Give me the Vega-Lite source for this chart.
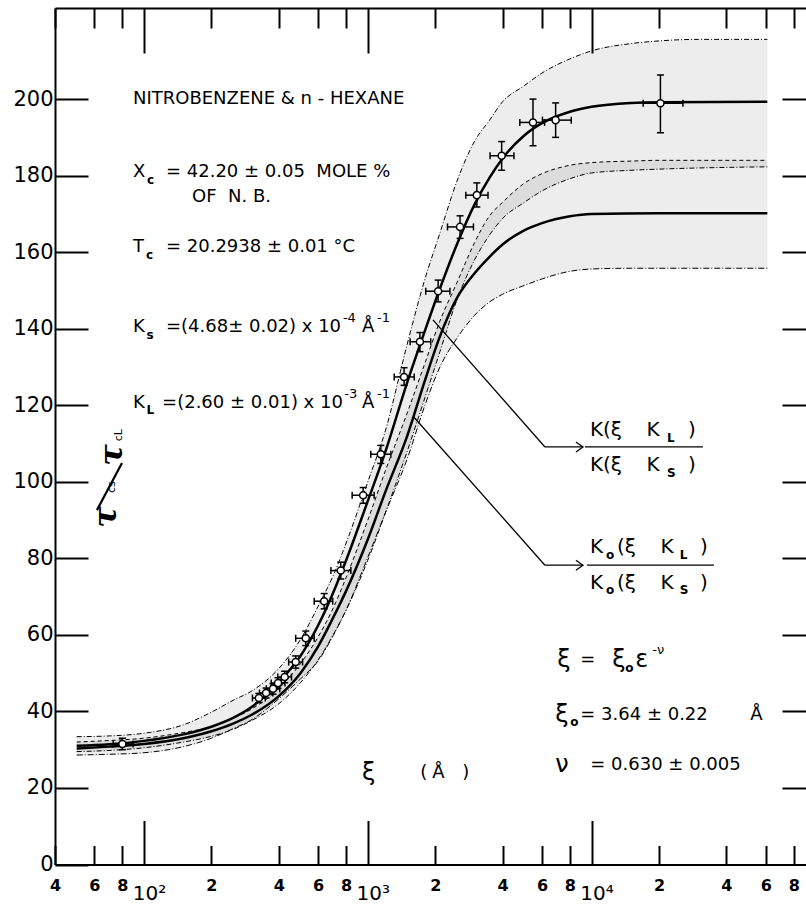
{
"$schema":"https://vega.github.io/schema/vega-lite/v6.json",
"width":751,"height":856.5,
"autosize":{"type":"none"},
"padding":{"left":55,"top":8,"right":0,"bottom":42.5},
"background":"white",
"config":{"view":{"stroke":null},"axis":{"grid":false,"domainColor":"black","tickColor":"black","labelColor":"black","labelFont":"DejaVu Sans","domainWidth":2,"tickWidth":2},"text":{"font":"DejaVu Sans","color":"black"}},
"datasets":{
"bandU":[{"x":50,"hi":33.4,"lo":29.5},{"x":70,"hi":33.6,"lo":29.8},{"x":100,"hi":34.3,"lo":30.5},{"x":150,"hi":36.5,"lo":32},{"x":200,"hi":39.8,"lo":33.5},{"x":250,"hi":42.9,"lo":35.3},{"x":300,"hi":45.2,"lo":37.5},{"x":400,"hi":51.2,"lo":42},{"x":500,"hi":58.8,"lo":47.5},{"x":600,"hi":67.5,"lo":53.5},{"x":700,"hi":75.5,"lo":60},{"x":800,"hi":84,"lo":66.5},{"x":1000,"hi":100,"lo":79.5},{"x":1200,"hi":113.5,"lo":92},{"x":1500,"hi":136,"lo":108},{"x":1800,"hi":153,"lo":122},{"x":2100,"hi":165,"lo":134},{"x":2500,"hi":178.5,"lo":147.5},{"x":3000,"hi":189,"lo":158},{"x":3500,"hi":194.5,"lo":164.5},{"x":4000,"hi":199.3,"lo":168.8},{"x":5000,"hi":203.5,"lo":173},{"x":6000,"hi":206.8,"lo":176},{"x":8000,"hi":210.5,"lo":179.2},{"x":10000,"hi":212.6,"lo":180.7},{"x":15000,"hi":214.5,"lo":181.4},{"x":20000,"hi":215.2,"lo":181.7},{"x":30000,"hi":215.6,"lo":182},{"x":61000,"hi":215.6,"lo":182.3}],
"bandL":[{"x":50,"hi":32,"lo":28.6},{"x":70,"hi":32.4,"lo":28.8},{"x":100,"hi":33,"lo":29.2},{"x":150,"hi":34.5,"lo":30.8},{"x":200,"hi":36,"lo":33},{"x":250,"hi":38.2,"lo":35.5},{"x":300,"hi":40.5,"lo":37.7},{"x":400,"hi":46,"lo":43.3},{"x":500,"hi":52.5,"lo":48.5},{"x":600,"hi":59.5,"lo":53.2},{"x":700,"hi":67,"lo":59.8},{"x":800,"hi":75,"lo":66.5},{"x":1000,"hi":90,"lo":80.3},{"x":1200,"hi":103,"lo":92},{"x":1500,"hi":118,"lo":106},{"x":1800,"hi":131,"lo":120},{"x":2100,"hi":142,"lo":130},{"x":2500,"hi":152,"lo":137.5},{"x":3000,"hi":162.5,"lo":143.5},{"x":3500,"hi":169.5,"lo":147},{"x":4000,"hi":173,"lo":149},{"x":5000,"hi":178,"lo":151.3},{"x":6000,"hi":180.5,"lo":153},{"x":8000,"hi":182.7,"lo":155},{"x":10000,"hi":183.4,"lo":155.6},{"x":15000,"hi":183.8,"lo":155.8},{"x":20000,"hi":184,"lo":155.8},{"x":30000,"hi":184,"lo":155.8},{"x":61000,"hi":184,"lo":155.8}],
"curves":[
{"s":"K","x":50,"y":31},{"s":"K","x":70,"y":31.4},{"s":"K","x":100,"y":32.3},{"s":"K","x":150,"y":34},{"s":"K","x":200,"y":36},{"s":"K","x":250,"y":38.3},{"s":"K","x":300,"y":41},{"s":"K","x":350,"y":44.3},{"s":"K","x":400,"y":47.5},{"s":"K","x":450,"y":51},{"s":"K","x":500,"y":54.5},{"s":"K","x":600,"y":62.5},{"s":"K","x":700,"y":71},{"s":"K","x":800,"y":79.5},{"s":"K","x":1000,"y":95},{"s":"K","x":1200,"y":108},{"s":"K","x":1500,"y":126},{"s":"K","x":1800,"y":139.5},{"s":"K","x":2100,"y":150.5},{"s":"K","x":2500,"y":162},{"s":"K","x":3000,"y":172.5},{"s":"K","x":3500,"y":179.5},{"s":"K","x":4000,"y":184.5},{"s":"K","x":5000,"y":190.5},{"s":"K","x":6000,"y":193.7},{"s":"K","x":8000,"y":196.7},{"s":"K","x":10000,"y":198},{"s":"K","x":15000,"y":199},{"s":"K","x":20000,"y":199.2},{"s":"K","x":61000,"y":199.3},
{"s":"K0","x":50,"y":30.3},{"s":"K0","x":70,"y":30.8},{"s":"K0","x":100,"y":31.5},{"s":"K0","x":150,"y":33},{"s":"K0","x":200,"y":34.8},{"s":"K0","x":250,"y":36.8},{"s":"K0","x":300,"y":39},{"s":"K0","x":400,"y":44},{"s":"K0","x":500,"y":50},{"s":"K0","x":600,"y":57},{"s":"K0","x":700,"y":64.5},{"s":"K0","x":800,"y":71.5},{"s":"K0","x":1000,"y":85},{"s":"K0","x":1200,"y":97.5},{"s":"K0","x":1500,"y":112},{"s":"K0","x":1800,"y":126.5},{"s":"K0","x":2100,"y":138},{"s":"K0","x":2500,"y":148},{"s":"K0","x":3000,"y":154.5},{"s":"K0","x":3500,"y":158.8},{"s":"K0","x":4000,"y":162},{"s":"K0","x":5000,"y":165.7},{"s":"K0","x":6000,"y":167.6},{"s":"K0","x":8000,"y":169.4},{"s":"K0","x":10000,"y":170},{"s":"K0","x":20000,"y":170.2},{"s":"K0","x":61000,"y":170.2}],
"pts":[{"x":80,"y":31.5,"xlo":72.8,"xhi":89.3,"ylo":30,"yhi":33},{"x":326,"y":43.5,"xlo":305,"xhi":348,"ylo":42.3,"yhi":44.7},{"x":351,"y":44.8,"xlo":328,"xhi":376,"ylo":43.5,"yhi":46.1},{"x":377,"y":45.9,"xlo":352,"xhi":404,"ylo":44.5,"yhi":47.3},{"x":397,"y":47.4,"xlo":370,"xhi":426,"ylo":46,"yhi":48.8},{"x":425,"y":49,"xlo":396,"xhi":456,"ylo":47.5,"yhi":50.5},{"x":476,"y":52.9,"xlo":443,"xhi":511,"ylo":51.3,"yhi":54.5},{"x":528,"y":59.1,"xlo":476,"xhi":576,"ylo":57.2,"yhi":61},{"x":638,"y":68.8,"xlo":576,"xhi":697,"ylo":66.8,"yhi":70.8},{"x":757,"y":76.8,"xlo":684,"xhi":840,"ylo":74.6,"yhi":79},{"x":953,"y":96.5,"xlo":851,"xhi":1067,"ylo":94.4,"yhi":98.5},{"x":1143,"y":107.2,"xlo":1031,"xhi":1268,"ylo":104.8,"yhi":109.5},{"x":1452,"y":127.4,"xlo":1312,"xhi":1612,"ylo":125.2,"yhi":129.8},{"x":1709,"y":136.6,"xlo":1545,"xhi":1910,"ylo":134,"yhi":139},{"x":2061,"y":149.8,"xlo":1815,"xhi":2328,"ylo":147,"yhi":152.7},{"x":2583,"y":166.6,"xlo":2270,"xhi":2965,"ylo":163.6,"yhi":169.5},{"x":3070,"y":174.9,"xlo":2741,"xhi":3444,"ylo":171.8,"yhi":178.1},{"x":3963,"y":185.2,"xlo":3517,"xhi":4498,"ylo":181.4,"yhi":188.9},{"x":5471,"y":193.9,"xlo":4777,"xhi":6166,"ylo":187.8,"yhi":200},{"x":6906,"y":194.5,"xlo":6030,"xhi":8110,"ylo":190,"yhi":199},{"x":20300,"y":198.9,"xlo":17000,"xhi":25600,"ylo":191.2,"yhi":206.3}],
"ptr":[{"x1":1955,"y1":142.3,"x2":6186,"y2":109.1},{"x1":6186,"y1":109.1,"x2":9150,"y2":109.1},{"x1":1600,"y1":117,"x2":6186,"y2":78.2},{"x1":6186,"y1":78.2,"x2":9150,"y2":78.2},{"x1":9338,"y1":109.1,"x2":31440,"y2":109.1},{"x1":9533,"y1":78.2,"x2":35210,"y2":78.2}],
"arrows":[{"x":9150,"y":109.1},{"x":9150,"y":78.2}],
"slash":[{"x1":61.6,"y1":92.6,"x2":79.7,"y2":104.9}],
"tMain":[{"t":"NITROBENZENE & n - HEXANE","x":89.2,"y":200},{"t":"X","x":89.2,"y":180.9},{"t":"= 42.20 ± 0.05 \u00a0MOLE %","x":125.3,"y":180.9},{"t":"OF \u00a0N. B.","x":163.9,"y":174.4},{"t":"T","x":89.2,"y":161.3},{"t":"= 20.2938 ± 0.01 °C","x":125.3,"y":161.3},{"t":"K","x":89.2,"y":140.4},{"t":"=(4.68± 0.02) x 10","x":125.3,"y":140.4},{"t":"Å","x":942,"y":140.4},{"t":"K","x":89.2,"y":120.6},{"t":"=(2.60 ± 0.01) x 10","x":120.4,"y":120.6},{"t":"Å","x":942,"y":120.6},{"t":"=","x":8900,"y":53.4},{"t":"= 3.64 ± 0.22","x":8900,"y":39.1},{"t":"Å","x":51220,"y":39.1},{"t":"= 0.630 ± 0.005","x":9865,"y":26.1},{"t":"(","x":1714,"y":24},{"t":"Å","x":1940,"y":24},{"t":")","x":2641,"y":24}],
"tFrac":[{"t":"K(ξ","x":9832,"y":113.5},{"t":"K","x":17600,"y":113.5},{"t":")","x":26940,"y":113.5},{"t":"K(ξ","x":9832,"y":104.4},{"t":"K","x":17600,"y":104.4},{"t":")","x":26940,"y":104.4},{"t":"K","x":9832,"y":82.9},{"t":"(ξ","x":12980,"y":82.9},{"t":"K","x":20300,"y":82.9},{"t":")","x":30490,"y":82.9},{"t":"K","x":9832,"y":73.5},{"t":"(ξ","x":12980,"y":73.5},{"t":"K","x":20300,"y":73.5},{"t":")","x":30490,"y":73.5}],
"tGreek":[{"t":"ξ","x":7024,"y":53.4},{"t":"ξ","x":12380,"y":53.4},{"t":"ε","x":15680,"y":53.4},{"t":"ξ","x":6880,"y":39.1},{"t":"ν","x":6880,"y":26.1},{"t":"ξ","x":943,"y":24}],
"tSub":[{"t":"c","x":103,"y":178.8},{"t":"c","x":102,"y":159.2},{"t":"s","x":102.5,"y":138.3},{"t":"L","x":102.5,"y":118.8},{"t":"L","x":21700,"y":111.5},{"t":"S","x":21700,"y":102.3},{"t":"o","x":11590,"y":81},{"t":"L","x":24800,"y":81},{"t":"o","x":11590,"y":71.6},{"t":"S","x":24800,"y":71.6},{"t":"o","x":14150,"y":51.3},{"t":"o","x":8030,"y":37.3}],
"tSup":[{"t":"-4","x":774,"y":142.8},{"t":"-1","x":1099,"y":142.8},{"t":"-3","x":785,"y":123},{"t":"-1","x":1099,"y":123},{"t":"-ν","x":18670,"y":56}],
"tTau":[{"t":"τ","x":67.6,"y":90.8},{"t":"τ","x":71.9,"y":107}],
"tTauSub":[{"t":"cs","x":71.9,"y":98.6},{"t":"cL","x":77.3,"y":112.2}]
},
"layer":[
{"data":{"name":"bandU"},"mark":{"type":"area","color":"black","opacity":0.07,"interpolate":"monotone"},"encoding":{"x":{"field":"x","type":"quantitative","scale":{"type":"log","domain":[40,90800],"nice":false},"axis":null},"y":{"field":"hi","type":"quantitative","scale":{"domain":[0,223.8],"nice":false,"zero":false},"axis":null},"y2":{"field":"lo"}}},
{"data":{"name":"bandL"},"mark":{"type":"area","color":"black","opacity":0.07,"interpolate":"monotone"},"encoding":{"x":{"field":"x","type":"quantitative","scale":{"type":"log","domain":[40,90800],"nice":false},"axis":null},"y":{"field":"hi","type":"quantitative","scale":{"domain":[0,223.8],"nice":false,"zero":false},"axis":null},"y2":{"field":"lo"}}},
{"data":{"name":"bandU"},"mark":{"type":"line","color":"black","strokeWidth":1,"strokeDash":[5,2,1,2],"interpolate":"monotone"},"encoding":{"x":{"field":"x","type":"quantitative","scale":{"type":"log","domain":[40,90800],"nice":false},"axis":null},"y":{"field":"hi","type":"quantitative","scale":{"domain":[0,223.8],"nice":false,"zero":false},"axis":null}}},
{"data":{"name":"bandU"},"mark":{"type":"line","color":"black","strokeWidth":1,"strokeDash":[5,2,1,2],"interpolate":"monotone"},"encoding":{"x":{"field":"x","type":"quantitative","scale":{"type":"log","domain":[40,90800],"nice":false},"axis":null},"y":{"field":"lo","type":"quantitative","scale":{"domain":[0,223.8],"nice":false,"zero":false},"axis":null}}},
{"data":{"name":"bandL"},"mark":{"type":"line","color":"black","strokeWidth":1,"strokeDash":[4,3],"interpolate":"monotone"},"encoding":{"x":{"field":"x","type":"quantitative","scale":{"type":"log","domain":[40,90800],"nice":false},"axis":null},"y":{"field":"hi","type":"quantitative","scale":{"domain":[0,223.8],"nice":false,"zero":false},"axis":null}}},
{"data":{"name":"bandL"},"mark":{"type":"line","color":"black","strokeWidth":1,"strokeDash":[6,2,1,2],"interpolate":"monotone"},"encoding":{"x":{"field":"x","type":"quantitative","scale":{"type":"log","domain":[40,90800],"nice":false},"axis":null},"y":{"field":"lo","type":"quantitative","scale":{"domain":[0,223.8],"nice":false,"zero":false},"axis":null}}},
{"data":{"name":"curves"},"transform":[{"filter":"datum.s == 'K'"}],"mark":{"type":"line","color":"black","strokeWidth":2.5,"interpolate":"monotone"},"encoding":{
 "x":{"field":"x","type":"quantitative","scale":{"type":"log","domain":[40,90800],"nice":false},"axis":{"orient":"bottom","title":null,"values":[40,60,80,100,200,400,600,800,1000,2000,4000,6000,8000,10000,20000,40000,60000,80000],
  "labelExpr":"datum.value === 100 ? '10²' : datum.value === 1000 ? '10³' : datum.value === 10000 ? '10⁴' : '' + round(datum.value / pow(10, floor(log(datum.value) / LN10 + 1e-9)))",
  "tickSize":{"condition":{"test":"datum.value === 100 || datum.value === 1000 || datum.value === 10000","value":-44},"value":-19},
  "labelPadding":{"condition":{"test":"datum.value === 100 || datum.value === 1000 || datum.value === 10000","value":73},"value":40},
  "labelFontSize":{"condition":{"test":"datum.value === 100 || datum.value === 1000 || datum.value === 10000","value":20},"value":16},
  "labelFontWeight":{"condition":{"test":"datum.value === 100 || datum.value === 1000 || datum.value === 10000","value":"normal"},"value":"bold"},
  "labelOffset":{"condition":{"test":"datum.value === 100 || datum.value === 1000 || datum.value === 10000","value":5},"value":0},
  "labelBaseline":"middle","labelFlush":false,"labelOverlap":false}},
 "y":{"field":"y","type":"quantitative","scale":{"domain":[0,223.8],"nice":false,"zero":false},"axis":{"orient":"left","title":null,"values":[0,20,40,60,80,100,120,140,160,180,200],"tickSize":-33,"labelPadding":35,"labelFontSize":21,"labelFlush":false,"labelOverlap":false}}}},
{"data":{"name":"curves"},"transform":[{"filter":"datum.s == 'K0'"}],"mark":{"type":"line","color":"black","strokeWidth":2.5,"interpolate":"monotone"},"encoding":{
 "x":{"field":"x","type":"quantitative","scale":{"type":"log","domain":[40,90800],"nice":false},"axis":{"orient":"top","title":null,"labels":false,"values":[40,60,80,100,200,400,600,800,1000,2000,4000,6000,8000,10000,20000,40000,60000,80000],
  "tickSize":{"condition":{"test":"datum.value === 100 || datum.value === 1000 || datum.value === 10000","value":-45},"value":-20}}},
 "y":{"field":"y","type":"quantitative","scale":{"domain":[0,223.8],"nice":false,"zero":false},"axis":{"orient":"right","title":null,"labels":false,"domain":false,"values":[20,40,60,80,100,120,140,160,180,200],"tickSize":-24}}}},
{"data":{"name":"ptr"},"mark":{"type":"rule","color":"black","strokeWidth":1.3},"encoding":{"x":{"field":"x1","type":"quantitative","scale":{"type":"log","domain":[40,90800],"nice":false},"axis":null},"x2":{"field":"x2"},"y":{"field":"y1","type":"quantitative","scale":{"domain":[0,223.8],"nice":false,"zero":false},"axis":null},"y2":{"field":"y2"}}},
{"data":{"name":"slash"},"mark":{"type":"rule","color":"black","strokeWidth":2.2},"encoding":{"x":{"field":"x1","type":"quantitative","scale":{"type":"log","domain":[40,90800],"nice":false},"axis":null},"x2":{"field":"x2"},"y":{"field":"y1","type":"quantitative","scale":{"domain":[0,223.8],"nice":false,"zero":false},"axis":null},"y2":{"field":"y2"}}},
{"data":{"name":"arrows"},"mark":{"type":"point","shape":"M-1,-0.7L0,0L-1,0.7","size":200,"filled":false,"stroke":"black","strokeWidth":1.3,"opacity":1},"encoding":{"x":{"field":"x","type":"quantitative","scale":{"type":"log","domain":[40,90800],"nice":false},"axis":null},"y":{"field":"y","type":"quantitative","scale":{"domain":[0,223.8],"nice":false,"zero":false},"axis":null}}},
{"data":{"name":"pts"},"mark":{"type":"rule","color":"black","strokeWidth":1.5},"encoding":{"x":{"field":"xlo","type":"quantitative","scale":{"type":"log","domain":[40,90800],"nice":false},"axis":null},"x2":{"field":"xhi"},"y":{"field":"y","type":"quantitative","scale":{"domain":[0,223.8],"nice":false,"zero":false},"axis":null}}},
{"data":{"name":"pts"},"mark":{"type":"rule","color":"black","strokeWidth":1.5},"encoding":{"x":{"field":"x","type":"quantitative","scale":{"type":"log","domain":[40,90800],"nice":false},"axis":null},"y":{"field":"ylo","type":"quantitative","scale":{"domain":[0,223.8],"nice":false,"zero":false},"axis":null},"y2":{"field":"yhi"}}},
{"data":{"name":"pts"},"mark":{"type":"tick","color":"black","orient":"vertical","size":7,"thickness":1.5,"opacity":1},"encoding":{"x":{"field":"xlo","type":"quantitative","scale":{"type":"log","domain":[40,90800],"nice":false},"axis":null},"y":{"field":"y","type":"quantitative","scale":{"domain":[0,223.8],"nice":false,"zero":false},"axis":null}}},
{"data":{"name":"pts"},"mark":{"type":"tick","color":"black","orient":"vertical","size":7,"thickness":1.5,"opacity":1},"encoding":{"x":{"field":"xhi","type":"quantitative","scale":{"type":"log","domain":[40,90800],"nice":false},"axis":null},"y":{"field":"y","type":"quantitative","scale":{"domain":[0,223.8],"nice":false,"zero":false},"axis":null}}},
{"data":{"name":"pts"},"mark":{"type":"tick","color":"black","orient":"horizontal","size":7,"thickness":1.5,"opacity":1},"encoding":{"x":{"field":"x","type":"quantitative","scale":{"type":"log","domain":[40,90800],"nice":false},"axis":null},"y":{"field":"ylo","type":"quantitative","scale":{"domain":[0,223.8],"nice":false,"zero":false},"axis":null}}},
{"data":{"name":"pts"},"mark":{"type":"tick","color":"black","orient":"horizontal","size":7,"thickness":1.5,"opacity":1},"encoding":{"x":{"field":"x","type":"quantitative","scale":{"type":"log","domain":[40,90800],"nice":false},"axis":null},"y":{"field":"yhi","type":"quantitative","scale":{"domain":[0,223.8],"nice":false,"zero":false},"axis":null}}},
{"data":{"name":"pts"},"mark":{"type":"point","shape":"circle","size":50,"filled":true,"fill":"white","stroke":"black","strokeWidth":1.5,"opacity":1},"encoding":{"x":{"field":"x","type":"quantitative","scale":{"type":"log","domain":[40,90800],"nice":false},"axis":null},"y":{"field":"y","type":"quantitative","scale":{"domain":[0,223.8],"nice":false,"zero":false},"axis":null}}},
{"data":{"name":"tMain"},"mark":{"type":"text","fontSize":18,"align":"left","baseline":"middle"},"encoding":{"x":{"field":"x","type":"quantitative","scale":{"type":"log","domain":[40,90800],"nice":false},"axis":null},"y":{"field":"y","type":"quantitative","scale":{"domain":[0,223.8],"nice":false,"zero":false},"axis":null},"text":{"field":"t"}}},
{"data":{"name":"tFrac"},"mark":{"type":"text","fontSize":20,"align":"left","baseline":"middle"},"encoding":{"x":{"field":"x","type":"quantitative","scale":{"type":"log","domain":[40,90800],"nice":false},"axis":null},"y":{"field":"y","type":"quantitative","scale":{"domain":[0,223.8],"nice":false,"zero":false},"axis":null},"text":{"field":"t"}}},
{"data":{"name":"tGreek"},"mark":{"type":"text","fontSize":24,"align":"left","baseline":"middle"},"encoding":{"x":{"field":"x","type":"quantitative","scale":{"type":"log","domain":[40,90800],"nice":false},"axis":null},"y":{"field":"y","type":"quantitative","scale":{"domain":[0,223.8],"nice":false,"zero":false},"axis":null},"text":{"field":"t"}}},
{"data":{"name":"tSub"},"mark":{"type":"text","fontSize":12,"fontWeight":"bold","align":"left","baseline":"middle"},"encoding":{"x":{"field":"x","type":"quantitative","scale":{"type":"log","domain":[40,90800],"nice":false},"axis":null},"y":{"field":"y","type":"quantitative","scale":{"domain":[0,223.8],"nice":false,"zero":false},"axis":null},"text":{"field":"t"}}},
{"data":{"name":"tSup"},"mark":{"type":"text","fontSize":13,"align":"left","baseline":"middle"},"encoding":{"x":{"field":"x","type":"quantitative","scale":{"type":"log","domain":[40,90800],"nice":false},"axis":null},"y":{"field":"y","type":"quantitative","scale":{"domain":[0,223.8],"nice":false,"zero":false},"axis":null},"text":{"field":"t"}}},
{"data":{"name":"tTau"},"mark":{"type":"text","font":"DejaVu Serif","fontSize":32,"fontStyle":"italic","fontWeight":"bold","angle":270,"align":"center","baseline":"middle"},"encoding":{"x":{"field":"x","type":"quantitative","scale":{"type":"log","domain":[40,90800],"nice":false},"axis":null},"y":{"field":"y","type":"quantitative","scale":{"domain":[0,223.8],"nice":false,"zero":false},"axis":null},"text":{"field":"t"}}},
{"data":{"name":"tTauSub"},"mark":{"type":"text","fontSize":11,"angle":270,"align":"center","baseline":"middle"},"encoding":{"x":{"field":"x","type":"quantitative","scale":{"type":"log","domain":[40,90800],"nice":false},"axis":null},"y":{"field":"y","type":"quantitative","scale":{"domain":[0,223.8],"nice":false,"zero":false},"axis":null},"text":{"field":"t"}}}
],
"resolve":{"axis":{"x":"independent","y":"independent"}}
}
